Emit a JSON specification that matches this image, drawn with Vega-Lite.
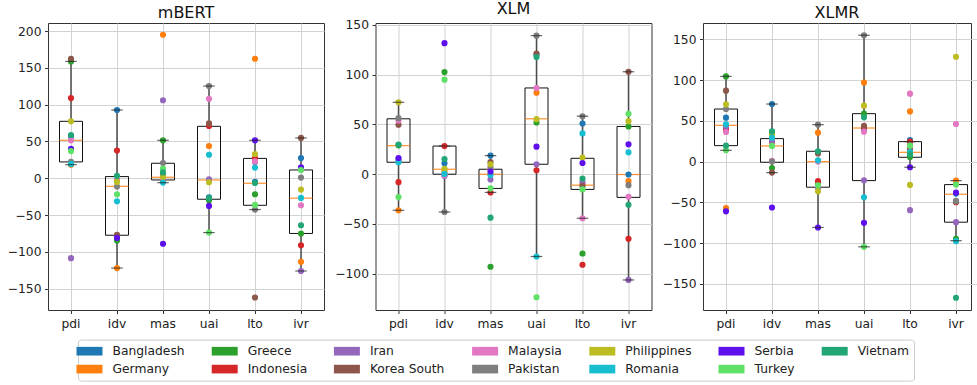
{
"$schema": "https://vega.github.io/schema/vega-lite/v6.json",
"padding": {"left": 6, "top": 0, "right": 0, "bottom": 0},
"background": "white",
"config": {
  "font": "DejaVu Sans",
  "view": {"stroke": "#333333", "strokeWidth": 1},
  "axis": {"labelFont": "DejaVu Sans", "labelFontSize": 12.3, "labelColor": "#222222", "tickColor": "#333333", "tickSize": 3.5, "labelPadding": 3.5, "domain": false, "grid": true, "gridColor": "#d3d3d3", "gridWidth": 1},
  "title": {"font": "DejaVu Sans", "fontSize": 16, "fontWeight": "normal", "color": "#111111", "offset": 2},
  "concat": {"spacing": 8.5},
  "legend": {"orient": "none", "legendX": 30, "legendY": 316.6, "direction": "horizontal", "columns": 7, "symbolSize": 169, "symbolStrokeWidth": 0, "symbolOpacity": 1, "labelFont": "DejaVu Sans", "labelFontSize": 12.3, "labelColor": "#222222", "labelOffset": 16.5, "columnPadding": 26.2, "rowPadding": 5, "strokeColor": "#cccccc", "padding": 5, "cornerRadius": 3, "fillColor": "white", "labelLimit": 300}
},
"datasets": {
"box": [
{"m":"mBERT","d":"pdi","lo":18.5,"q1":22.2,"med":51.6,"q3":77.4,"hi":158.8},
{"m":"mBERT","d":"idv","lo":-122,"q1":-77.4,"med":-10.9,"q3":2.3,"hi":92.8},
{"m":"mBERT","d":"mas","lo":-6,"q1":-2.3,"med":1.4,"q3":20.4,"hi":51.6},
{"m":"mBERT","d":"uai","lo":-73.8,"q1":-28.5,"med":-2.3,"q3":70.6,"hi":125.3},
{"m":"mBERT","d":"lto","lo":-42.5,"q1":-36.7,"med":-6.8,"q3":27,"hi":51.6},
{"m":"mBERT","d":"ivr","lo":-126,"q1":-75,"med":-27,"q3":11.3,"hi":54.8},
{"m":"XLM","d":"pdi","lo":-36.3,"q1":12,"med":28.7,"q3":55.7,"hi":72.3},
{"m":"XLM","d":"idv","lo":-38,"q1":0,"med":5,"q3":28.3,"hi":28.3},
{"m":"XLM","d":"mas","lo":-18.3,"q1":-14.3,"med":0,"q3":5,"hi":18.7},
{"m":"XLM","d":"uai","lo":-82.7,"q1":10,"med":55.7,"q3":86.7,"hi":139.3},
{"m":"XLM","d":"lto","lo":-44.3,"q1":-15.3,"med":-11,"q3":16,"hi":58.3},
{"m":"XLM","d":"ivr","lo":-106.3,"q1":-23.3,"med":-0.3,"q3":48,"hi":103},
{"m":"XLMR","d":"pdi","lo":13.9,"q1":19.6,"med":44.5,"q3":64.5,"hi":104.5},
{"m":"XLMR","d":"idv","lo":-13.5,"q1":-0.8,"med":19.2,"q3":28.2,"hi":70.6},
{"m":"XLMR","d":"mas","lo":-80.8,"q1":-31.4,"med":0,"q3":12.7,"hi":45.3},
{"m":"XLMR","d":"uai","lo":-104.5,"q1":-23.3,"med":41.2,"q3":58.8,"hi":155},
{"m":"XLMR","d":"lto","lo":-6.9,"q1":5.3,"med":11.4,"q3":24.5,"hi":24.5},
{"m":"XLMR","d":"ivr","lo":-97,"q1":-74.3,"med":-40,"q3":-28.2,"hi":-23.3}
],
"pts": [
{"m":"mBERT","d":"pdi","c":"Bangladesh","v":57},{"m":"mBERT","d":"pdi","c":"Germany","v":18.5},{"m":"mBERT","d":"pdi","c":"Greece","v":158.8},{"m":"mBERT","d":"pdi","c":"Indonesia","v":109},{"m":"mBERT","d":"pdi","c":"Iran","v":-108.6},{"m":"mBERT","d":"pdi","c":"Korea South","v":162.4},{"m":"mBERT","d":"pdi","c":"Malaysia","v":51.6},{"m":"mBERT","d":"pdi","c":"Pakistan","v":22.5},{"m":"mBERT","d":"pdi","c":"Philippines","v":77.4},{"m":"mBERT","d":"pdi","c":"Romania","v":19.5},{"m":"mBERT","d":"pdi","c":"Serbia","v":40},{"m":"mBERT","d":"pdi","c":"Turkey","v":37},{"m":"mBERT","d":"pdi","c":"Vietnam","v":58.8},
{"m":"mBERT","d":"idv","c":"Bangladesh","v":92.8},{"m":"mBERT","d":"idv","c":"Germany","v":-122},{"m":"mBERT","d":"idv","c":"Greece","v":-84.6},{"m":"mBERT","d":"idv","c":"Indonesia","v":37.6},{"m":"mBERT","d":"idv","c":"Iran","v":-79},{"m":"mBERT","d":"idv","c":"Korea South","v":-77},{"m":"mBERT","d":"idv","c":"Malaysia","v":-2},{"m":"mBERT","d":"idv","c":"Pakistan","v":-11.3},{"m":"mBERT","d":"idv","c":"Philippines","v":-5},{"m":"mBERT","d":"idv","c":"Romania","v":-31.2},{"m":"mBERT","d":"idv","c":"Serbia","v":-81},{"m":"mBERT","d":"idv","c":"Turkey","v":-21.7},{"m":"mBERT","d":"idv","c":"Vietnam","v":3.2},
{"m":"mBERT","d":"mas","c":"Bangladesh","v":5},{"m":"mBERT","d":"mas","c":"Germany","v":195},{"m":"mBERT","d":"mas","c":"Greece","v":51.6},{"m":"mBERT","d":"mas","c":"Indonesia","v":-2},{"m":"mBERT","d":"mas","c":"Iran","v":106},{"m":"mBERT","d":"mas","c":"Korea South","v":3},{"m":"mBERT","d":"mas","c":"Malaysia","v":0},{"m":"mBERT","d":"mas","c":"Pakistan","v":20.8},{"m":"mBERT","d":"mas","c":"Philippines","v":1.8},{"m":"mBERT","d":"mas","c":"Romania","v":-5.9},{"m":"mBERT","d":"mas","c":"Serbia","v":-89},{"m":"mBERT","d":"mas","c":"Turkey","v":13},{"m":"mBERT","d":"mas","c":"Vietnam","v":8},
{"m":"mBERT","d":"uai","c":"Bangladesh","v":-26},{"m":"mBERT","d":"uai","c":"Germany","v":43.9},{"m":"mBERT","d":"uai","c":"Greece","v":-30},{"m":"mBERT","d":"uai","c":"Indonesia","v":71},{"m":"mBERT","d":"uai","c":"Iran","v":-1.4},{"m":"mBERT","d":"uai","c":"Korea South","v":74.7},{"m":"mBERT","d":"uai","c":"Malaysia","v":108},{"m":"mBERT","d":"uai","c":"Pakistan","v":125.3},{"m":"mBERT","d":"uai","c":"Philippines","v":-5.4},{"m":"mBERT","d":"uai","c":"Romania","v":32},{"m":"mBERT","d":"uai","c":"Serbia","v":-37.6},{"m":"mBERT","d":"uai","c":"Turkey","v":-73.8},{"m":"mBERT","d":"uai","c":"Vietnam","v":-27},
{"m":"mBERT","d":"lto","c":"Bangladesh","v":-5},{"m":"mBERT","d":"lto","c":"Germany","v":162.4},{"m":"mBERT","d":"lto","c":"Greece","v":-21.7},{"m":"mBERT","d":"lto","c":"Indonesia","v":27.6},{"m":"mBERT","d":"lto","c":"Iran","v":22},{"m":"mBERT","d":"lto","c":"Korea South","v":-162},{"m":"mBERT","d":"lto","c":"Malaysia","v":23},{"m":"mBERT","d":"lto","c":"Pakistan","v":-42.5},{"m":"mBERT","d":"lto","c":"Philippines","v":33},{"m":"mBERT","d":"lto","c":"Romania","v":14.5},{"m":"mBERT","d":"lto","c":"Serbia","v":51.6},{"m":"mBERT","d":"lto","c":"Turkey","v":-36.2},{"m":"mBERT","d":"lto","c":"Vietnam","v":-6.3},
{"m":"mBERT","d":"ivr","c":"Bangladesh","v":27.6},{"m":"mBERT","d":"ivr","c":"Germany","v":-113.6},{"m":"mBERT","d":"ivr","c":"Greece","v":-75},{"m":"mBERT","d":"ivr","c":"Indonesia","v":-91},{"m":"mBERT","d":"ivr","c":"Iran","v":-126},{"m":"mBERT","d":"ivr","c":"Korea South","v":54.8},{"m":"mBERT","d":"ivr","c":"Malaysia","v":-36.7},{"m":"mBERT","d":"ivr","c":"Pakistan","v":0.9},{"m":"mBERT","d":"ivr","c":"Philippines","v":-15.4},{"m":"mBERT","d":"ivr","c":"Romania","v":-26.7},{"m":"mBERT","d":"ivr","c":"Serbia","v":15},{"m":"mBERT","d":"ivr","c":"Turkey","v":11.3},{"m":"mBERT","d":"ivr","c":"Vietnam","v":-63.8},
{"m":"XLM","d":"pdi","c":"Bangladesh","v":14.7},{"m":"XLM","d":"pdi","c":"Germany","v":-36.3},{"m":"XLM","d":"pdi","c":"Greece","v":29},{"m":"XLM","d":"pdi","c":"Indonesia","v":-8},{"m":"XLM","d":"pdi","c":"Iran","v":13},{"m":"XLM","d":"pdi","c":"Korea South","v":49.7},{"m":"XLM","d":"pdi","c":"Malaysia","v":54},{"m":"XLM","d":"pdi","c":"Pakistan","v":56.3},{"m":"XLM","d":"pdi","c":"Philippines","v":72.3},{"m":"XLM","d":"pdi","c":"Romania","v":12},{"m":"XLM","d":"pdi","c":"Serbia","v":16.3},{"m":"XLM","d":"pdi","c":"Turkey","v":-23},{"m":"XLM","d":"pdi","c":"Vietnam","v":29.7},
{"m":"XLM","d":"idv","c":"Bangladesh","v":11},{"m":"XLM","d":"idv","c":"Germany","v":3},{"m":"XLM","d":"idv","c":"Greece","v":102.7},{"m":"XLM","d":"idv","c":"Indonesia","v":28.3},{"m":"XLM","d":"idv","c":"Iran","v":-1.7},{"m":"XLM","d":"idv","c":"Korea South","v":0},{"m":"XLM","d":"idv","c":"Malaysia","v":-1},{"m":"XLM","d":"idv","c":"Pakistan","v":-38},{"m":"XLM","d":"idv","c":"Philippines","v":5.3},{"m":"XLM","d":"idv","c":"Romania","v":0.3},{"m":"XLM","d":"idv","c":"Serbia","v":131.7},{"m":"XLM","d":"idv","c":"Turkey","v":95},{"m":"XLM","d":"idv","c":"Vietnam","v":15.3},
{"m":"XLM","d":"mas","c":"Bangladesh","v":18.7},{"m":"XLM","d":"mas","c":"Germany","v":0},{"m":"XLM","d":"mas","c":"Greece","v":-93},{"m":"XLM","d":"mas","c":"Indonesia","v":-18.3},{"m":"XLM","d":"mas","c":"Iran","v":-5.3},{"m":"XLM","d":"mas","c":"Korea South","v":12.3},{"m":"XLM","d":"mas","c":"Malaysia","v":5},{"m":"XLM","d":"mas","c":"Pakistan","v":7},{"m":"XLM","d":"mas","c":"Philippines","v":10},{"m":"XLM","d":"mas","c":"Romania","v":-0.7},{"m":"XLM","d":"mas","c":"Serbia","v":2.7},{"m":"XLM","d":"mas","c":"Turkey","v":-14.3},{"m":"XLM","d":"mas","c":"Vietnam","v":-43.7},
{"m":"XLM","d":"uai","c":"Bangladesh","v":120},{"m":"XLM","d":"uai","c":"Germany","v":82},{"m":"XLM","d":"uai","c":"Greece","v":52},{"m":"XLM","d":"uai","c":"Indonesia","v":4},{"m":"XLM","d":"uai","c":"Iran","v":10},{"m":"XLM","d":"uai","c":"Korea South","v":121.3},{"m":"XLM","d":"uai","c":"Malaysia","v":86.7},{"m":"XLM","d":"uai","c":"Pakistan","v":139.3},{"m":"XLM","d":"uai","c":"Philippines","v":55.3},{"m":"XLM","d":"uai","c":"Romania","v":-82.7},{"m":"XLM","d":"uai","c":"Serbia","v":27.7},{"m":"XLM","d":"uai","c":"Turkey","v":-123.7},{"m":"XLM","d":"uai","c":"Vietnam","v":117.7},
{"m":"XLM","d":"lto","c":"Bangladesh","v":51},{"m":"XLM","d":"lto","c":"Germany","v":-10.3},{"m":"XLM","d":"lto","c":"Greece","v":-79.7},{"m":"XLM","d":"lto","c":"Indonesia","v":-91},{"m":"XLM","d":"lto","c":"Iran","v":-8},{"m":"XLM","d":"lto","c":"Korea South","v":-12},{"m":"XLM","d":"lto","c":"Malaysia","v":-44.3},{"m":"XLM","d":"lto","c":"Pakistan","v":58.3},{"m":"XLM","d":"lto","c":"Philippines","v":16.7},{"m":"XLM","d":"lto","c":"Romania","v":41},{"m":"XLM","d":"lto","c":"Serbia","v":11.3},{"m":"XLM","d":"lto","c":"Turkey","v":-15.3},{"m":"XLM","d":"lto","c":"Vietnam","v":-4.3},
{"m":"XLM","d":"ivr","c":"Bangladesh","v":-0.3},{"m":"XLM","d":"ivr","c":"Germany","v":-7},{"m":"XLM","d":"ivr","c":"Greece","v":48},{"m":"XLM","d":"ivr","c":"Indonesia","v":-65},{"m":"XLM","d":"ivr","c":"Iran","v":-106.3},{"m":"XLM","d":"ivr","c":"Korea South","v":103},{"m":"XLM","d":"ivr","c":"Malaysia","v":-22.7},{"m":"XLM","d":"ivr","c":"Pakistan","v":-11},{"m":"XLM","d":"ivr","c":"Philippines","v":53.3},{"m":"XLM","d":"ivr","c":"Romania","v":22},{"m":"XLM","d":"ivr","c":"Serbia","v":30},{"m":"XLM","d":"ivr","c":"Turkey","v":60.7},{"m":"XLM","d":"ivr","c":"Vietnam","v":-30.7},
{"m":"XLMR","d":"pdi","c":"Bangladesh","v":53.9},{"m":"XLMR","d":"pdi","c":"Germany","v":-57},{"m":"XLMR","d":"pdi","c":"Greece","v":104.5},{"m":"XLMR","d":"pdi","c":"Indonesia","v":40},{"m":"XLMR","d":"pdi","c":"Iran","v":43},{"m":"XLMR","d":"pdi","c":"Korea South","v":87},{"m":"XLMR","d":"pdi","c":"Malaysia","v":36.3},{"m":"XLMR","d":"pdi","c":"Pakistan","v":64.5},{"m":"XLMR","d":"pdi","c":"Philippines","v":70.2},{"m":"XLMR","d":"pdi","c":"Romania","v":45.7},{"m":"XLMR","d":"pdi","c":"Serbia","v":-61},{"m":"XLMR","d":"pdi","c":"Turkey","v":13.9},{"m":"XLMR","d":"pdi","c":"Vietnam","v":19.6},
{"m":"XLMR","d":"idv","c":"Bangladesh","v":70.6},{"m":"XLMR","d":"idv","c":"Germany","v":34},{"m":"XLMR","d":"idv","c":"Greece","v":-7.8},{"m":"XLMR","d":"idv","c":"Indonesia","v":24},{"m":"XLMR","d":"idv","c":"Iran","v":25.3},{"m":"XLMR","d":"idv","c":"Korea South","v":-13.5},{"m":"XLMR","d":"idv","c":"Malaysia","v":0.8},{"m":"XLMR","d":"idv","c":"Pakistan","v":0},{"m":"XLMR","d":"idv","c":"Philippines","v":33.5},{"m":"XLMR","d":"idv","c":"Romania","v":29.4},{"m":"XLMR","d":"idv","c":"Serbia","v":-56.3},{"m":"XLMR","d":"idv","c":"Turkey","v":19.2},{"m":"XLMR","d":"idv","c":"Vietnam","v":37},
{"m":"XLMR","d":"mas","c":"Bangladesh","v":12},{"m":"XLMR","d":"mas","c":"Germany","v":35.5},{"m":"XLMR","d":"mas","c":"Greece","v":-27.3},{"m":"XLMR","d":"mas","c":"Indonesia","v":-24},{"m":"XLMR","d":"mas","c":"Iran","v":-32},{"m":"XLMR","d":"mas","c":"Korea South","v":10},{"m":"XLMR","d":"mas","c":"Malaysia","v":0},{"m":"XLMR","d":"mas","c":"Pakistan","v":45.3},{"m":"XLMR","d":"mas","c":"Philippines","v":-36.3},{"m":"XLMR","d":"mas","c":"Romania","v":1.6},{"m":"XLMR","d":"mas","c":"Serbia","v":-80.8},{"m":"XLMR","d":"mas","c":"Turkey","v":-29},{"m":"XLMR","d":"mas","c":"Vietnam","v":12.7},
{"m":"XLMR","d":"uai","c":"Bangladesh","v":40},{"m":"XLMR","d":"uai","c":"Germany","v":97},{"m":"XLMR","d":"uai","c":"Greece","v":58.8},{"m":"XLMR","d":"uai","c":"Indonesia","v":42.4},{"m":"XLMR","d":"uai","c":"Iran","v":-22.9},{"m":"XLMR","d":"uai","c":"Korea South","v":44},{"m":"XLMR","d":"uai","c":"Malaysia","v":36.7},{"m":"XLMR","d":"uai","c":"Pakistan","v":155},{"m":"XLMR","d":"uai","c":"Philippines","v":68.6},{"m":"XLMR","d":"uai","c":"Romania","v":-43.7},{"m":"XLMR","d":"uai","c":"Serbia","v":-75.1},{"m":"XLMR","d":"uai","c":"Turkey","v":-104.5},{"m":"XLMR","d":"uai","c":"Vietnam","v":54.3},
{"m":"XLMR","d":"lto","c":"Bangladesh","v":26.5},{"m":"XLMR","d":"lto","c":"Germany","v":61.6},{"m":"XLMR","d":"lto","c":"Greece","v":5.7},{"m":"XLMR","d":"lto","c":"Indonesia","v":24.5},{"m":"XLMR","d":"lto","c":"Iran","v":-59.6},{"m":"XLMR","d":"lto","c":"Korea South","v":15},{"m":"XLMR","d":"lto","c":"Malaysia","v":83.3},{"m":"XLMR","d":"lto","c":"Pakistan","v":20},{"m":"XLMR","d":"lto","c":"Philippines","v":-28.6},{"m":"XLMR","d":"lto","c":"Romania","v":11.8},{"m":"XLMR","d":"lto","c":"Serbia","v":-6.9},{"m":"XLMR","d":"lto","c":"Turkey","v":19.6},{"m":"XLMR","d":"lto","c":"Vietnam","v":9},
{"m":"XLMR","d":"ivr","c":"Bangladesh","v":-39.2},{"m":"XLMR","d":"ivr","c":"Germany","v":-23.3},{"m":"XLMR","d":"ivr","c":"Greece","v":-94.7},{"m":"XLMR","d":"ivr","c":"Indonesia","v":-49.8},{"m":"XLMR","d":"ivr","c":"Iran","v":-74.3},{"m":"XLMR","d":"ivr","c":"Korea South","v":-49},{"m":"XLMR","d":"ivr","c":"Malaysia","v":46.1},{"m":"XLMR","d":"ivr","c":"Pakistan","v":-48.2},{"m":"XLMR","d":"ivr","c":"Philippines","v":128.6},{"m":"XLMR","d":"ivr","c":"Romania","v":-97.6},{"m":"XLMR","d":"ivr","c":"Serbia","v":-38},{"m":"XLMR","d":"ivr","c":"Turkey","v":-28.2},{"m":"XLMR","d":"ivr","c":"Vietnam","v":-167}
]
},
"hconcat": [
{
 "title": "mBERT", "width": 276, "height": 287,
 "data": {"name": "box"}, "transform": [{"filter": "datum.m == 'mBERT'"}],
 "encoding": {"x": {"field": "d", "type": "nominal", "sort": ["pdi","idv","mas","uai","lto","ivr"], "title": null, "scale": {"type": "band", "paddingInner": 0.5, "paddingOuter": 0.25}, "axis": {"labelAngle": 0, "bandPosition": 0.5}}},
 "layer": [
  {"mark": {"type": "rule", "color": "#4d4d4d", "strokeWidth": 1.5}, "encoding": {"y": {"field": "lo", "type": "quantitative", "title": null, "scale": {"domain": [-179, 211], "nice": false, "zero": false}, "axis": {"values": [-150,-100,-50,0,50,100,150,200]}}, "y2": {"field": "q1"}}},
  {"mark": {"type": "rule", "color": "#4d4d4d", "strokeWidth": 1.5}, "encoding": {"y": {"field": "q3", "type": "quantitative", "title": null}, "y2": {"field": "hi"}}},
  {"mark": {"type": "bar", "fill": "transparent", "stroke": "#111111", "strokeWidth": 1}, "encoding": {"y": {"field": "q1", "type": "quantitative", "title": null}, "y2": {"field": "q3"}}},
  {"mark": {"type": "tick", "orient": "horizontal", "color": "#ff7f0e", "thickness": 1.2, "size": 23, "opacity": 0.85}, "encoding": {"y": {"field": "med", "type": "quantitative", "title": null}}},
  {"data": {"name": "pts"}, "transform": [{"filter": "datum.m == 'mBERT'"}], "mark": {"type": "circle", "size": 38, "opacity": 1}, "encoding": {"y": {"field": "v", "type": "quantitative", "title": null}, "color": {"field": "c", "type": "nominal", "title": null, "scale": {"domain": ["Bangladesh","Greece","Iran","Malaysia","Philippines","Serbia","Vietnam","Germany","Indonesia","Korea South","Pakistan","Romania","Turkey"], "range": ["#1f77b4","#2ca02c","#9467bd","#e377c2","#bcbd22","#5e10ec","#22a675","#ff7f0e","#d62728","#8c564b","#7f7f7f","#17becf","#5fe066"]}, "legend": {"symbolType": "M-2,-0.667L2,-0.667L2,0.667L-2,0.667Z"}}}},
  {"mark": {"type": "tick", "orient": "horizontal", "color": "#222222", "thickness": 1.2, "size": 11.5}, "encoding": {"y": {"field": "lo", "type": "quantitative", "title": null}}},
  {"mark": {"type": "tick", "orient": "horizontal", "color": "#222222", "thickness": 1.2, "size": 11.5}, "encoding": {"y": {"field": "hi", "type": "quantitative", "title": null}}}
 ]
},
{
 "title": "XLM", "width": 276, "height": 287,
 "data": {"name": "box"}, "transform": [{"filter": "datum.m == 'XLM'"}],
 "encoding": {"x": {"field": "d", "type": "nominal", "sort": ["pdi","idv","mas","uai","lto","ivr"], "title": null, "scale": {"type": "band", "paddingInner": 0.5, "paddingOuter": 0.25}, "axis": {"labelAngle": 0, "bandPosition": 0.5}}},
 "layer": [
  {"mark": {"type": "rule", "color": "#4d4d4d", "strokeWidth": 1.5}, "encoding": {"y": {"field": "lo", "type": "quantitative", "title": null, "scale": {"domain": [-136.5, 152], "nice": false, "zero": false}, "axis": {"values": [-100,-50,0,50,100,150]}}, "y2": {"field": "q1"}}},
  {"mark": {"type": "rule", "color": "#4d4d4d", "strokeWidth": 1.5}, "encoding": {"y": {"field": "q3", "type": "quantitative", "title": null}, "y2": {"field": "hi"}}},
  {"mark": {"type": "bar", "fill": "transparent", "stroke": "#111111", "strokeWidth": 1}, "encoding": {"y": {"field": "q1", "type": "quantitative", "title": null}, "y2": {"field": "q3"}}},
  {"mark": {"type": "tick", "orient": "horizontal", "color": "#ff7f0e", "thickness": 1.2, "size": 23, "opacity": 0.85}, "encoding": {"y": {"field": "med", "type": "quantitative", "title": null}}},
  {"data": {"name": "pts"}, "transform": [{"filter": "datum.m == 'XLM'"}], "mark": {"type": "circle", "size": 38, "opacity": 1}, "encoding": {"y": {"field": "v", "type": "quantitative", "title": null}, "color": {"field": "c", "type": "nominal", "title": null, "scale": {"domain": ["Bangladesh","Greece","Iran","Malaysia","Philippines","Serbia","Vietnam","Germany","Indonesia","Korea South","Pakistan","Romania","Turkey"], "range": ["#1f77b4","#2ca02c","#9467bd","#e377c2","#bcbd22","#5e10ec","#22a675","#ff7f0e","#d62728","#8c564b","#7f7f7f","#17becf","#5fe066"]}, "legend": {"symbolType": "M-2,-0.667L2,-0.667L2,0.667L-2,0.667Z"}}}},
  {"mark": {"type": "tick", "orient": "horizontal", "color": "#222222", "thickness": 1.2, "size": 11.5}, "encoding": {"y": {"field": "lo", "type": "quantitative", "title": null}}},
  {"mark": {"type": "tick", "orient": "horizontal", "color": "#222222", "thickness": 1.2, "size": 11.5}, "encoding": {"y": {"field": "hi", "type": "quantitative", "title": null}}}
 ]
},
{
 "title": "XLMR", "width": 268, "height": 287,
 "data": {"name": "box"}, "transform": [{"filter": "datum.m == 'XLMR'"}],
 "encoding": {"x": {"field": "d", "type": "nominal", "sort": ["pdi","idv","mas","uai","lto","ivr"], "title": null, "scale": {"type": "band", "paddingInner": 0.5, "paddingOuter": 0.25, "range": [0, 276]}, "axis": {"labelAngle": 0, "bandPosition": 0.5}}},
 "layer": [
  {"mark": {"type": "rule", "color": "#4d4d4d", "strokeWidth": 1.5}, "encoding": {"y": {"field": "lo", "type": "quantitative", "title": null, "scale": {"domain": [-182, 170], "nice": false, "zero": false}, "axis": {"values": [-150,-100,-50,0,50,100,150]}}, "y2": {"field": "q1"}}},
  {"mark": {"type": "rule", "color": "#4d4d4d", "strokeWidth": 1.5}, "encoding": {"y": {"field": "q3", "type": "quantitative", "title": null}, "y2": {"field": "hi"}}},
  {"mark": {"type": "bar", "fill": "transparent", "stroke": "#111111", "strokeWidth": 1}, "encoding": {"y": {"field": "q1", "type": "quantitative", "title": null}, "y2": {"field": "q3"}}},
  {"mark": {"type": "tick", "orient": "horizontal", "color": "#ff7f0e", "thickness": 1.2, "size": 23, "opacity": 0.85}, "encoding": {"y": {"field": "med", "type": "quantitative", "title": null}}},
  {"data": {"name": "pts"}, "transform": [{"filter": "datum.m == 'XLMR'"}], "mark": {"type": "circle", "size": 38, "opacity": 1}, "encoding": {"y": {"field": "v", "type": "quantitative", "title": null}, "color": {"field": "c", "type": "nominal", "title": null, "scale": {"domain": ["Bangladesh","Greece","Iran","Malaysia","Philippines","Serbia","Vietnam","Germany","Indonesia","Korea South","Pakistan","Romania","Turkey"], "range": ["#1f77b4","#2ca02c","#9467bd","#e377c2","#bcbd22","#5e10ec","#22a675","#ff7f0e","#d62728","#8c564b","#7f7f7f","#17becf","#5fe066"]}, "legend": {"symbolType": "M-2,-0.667L2,-0.667L2,0.667L-2,0.667Z"}}}},
  {"mark": {"type": "tick", "orient": "horizontal", "color": "#222222", "thickness": 1.2, "size": 11.5}, "encoding": {"y": {"field": "lo", "type": "quantitative", "title": null}}},
  {"mark": {"type": "tick", "orient": "horizontal", "color": "#222222", "thickness": 1.2, "size": 11.5}, "encoding": {"y": {"field": "hi", "type": "quantitative", "title": null}}}
 ]
}
]
}
